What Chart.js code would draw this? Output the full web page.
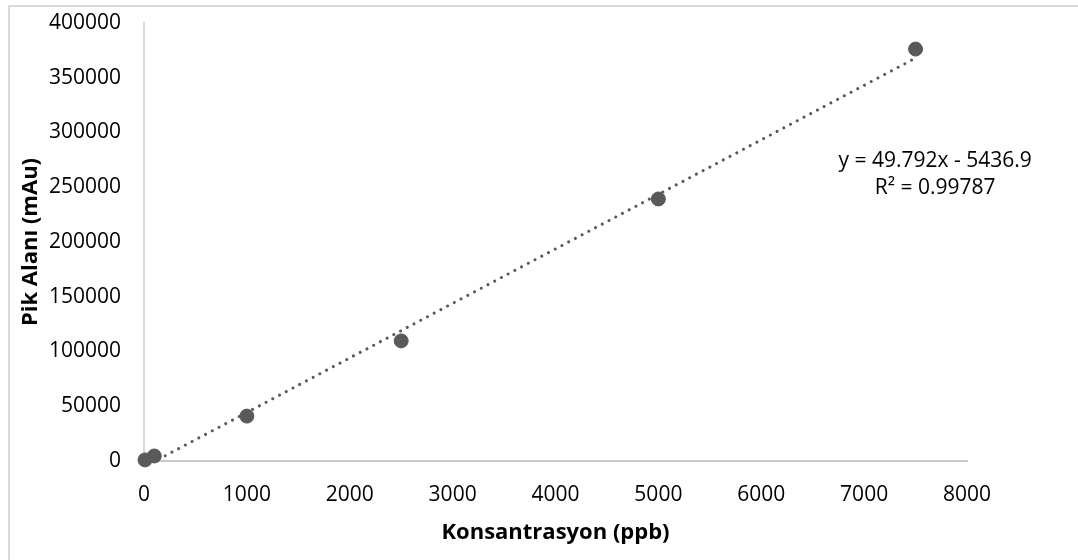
<!DOCTYPE html>
<html>
<head>
<meta charset="utf-8">
<script src="https://cdn.jsdelivr.net/npm/chart.js@4"></script>
<style>
  html, body { margin: 0; padding: 0; background: #fff; overflow: hidden; }
  #wrap { position: relative; width: 1078px; height: 560px; }
  #frame { position: absolute; left: 8px; top: 5px; width: 1100px; height: 600px;
           border: 2px solid #d9d9d9; box-sizing: border-box; pointer-events: none; }
  canvas { position: absolute; left: 0; top: 0; }
</style>
</head>
<body>
<div id="wrap">
  <div id="frame"></div>
  <canvas id="chart" width="1078" height="560"></canvas>
</div>
<script>
// ─── data ────────────────────────────────────────────────────────────────────
const concPpb  = [10, 100, 1000, 2500, 5000, 7500];
const peakArea = [1000, 4600, 41000, 109700, 239300, 376200];

// linear trendline endpoints (y = 49.792x - 5436.9 over the data range)
const trendX = [10, 7500];
const trendY = [-4939, 368003];

const eqLines = ['y = 49.792x - 5436.9', 'R² = 0.99787'];

const C = { mark: '#595959', axis: '#c9c9c9', text: '#000000' };
const FONT = 'Open Sans';

// equation label, drawn in data space like Excel's trendline label
const eqLabel = {
  id: 'eqLabel',
  afterDatasetsDraw(chart) {
    const { ctx, scales: { x, y } } = chart;
    const cx = x.getPixelForValue(7690);
    const cy = y.getPixelForValue(274000);
    ctx.save();
    ctx.font = `21px "${FONT}"`;
    ctx.fillStyle = C.text;
    ctx.textAlign = 'center';
    ctx.textBaseline = 'middle';
    eqLines.forEach((t, i) => ctx.fillText(t, cx, cy + i * 27));
    ctx.restore();
  },
};

const tickFont = { family: FONT, size: 21 };
const titleFont = { family: FONT, size: 22, weight: 'bold' };

new Chart(document.getElementById('chart').getContext('2d'), {
  type: 'scatter',
  data: {
    datasets: [
      {
        label: 'Pik Alanı',
        data: concPpb.map((x, i) => ({ x, y: peakArea[i] })),
        backgroundColor: C.mark,
        borderColor: C.mark,
        pointRadius: 7,
        pointHoverRadius: 7,
        clip: false,
        order: 0,
      },
      {
        label: 'Doğrusal',
        type: 'line',
        data: trendX.map((x, i) => ({ x, y: trendY[i] })),
        borderColor: C.mark,
        borderWidth: 3,
        borderDash: [0.01, 7.6],
        borderCapStyle: 'round',
        pointRadius: 0,
        fill: false,
        tension: 0,
        order: 1,
      },
    ],
  },
  options: {
    responsive: false, animation: false, devicePixelRatio: 1,
    layout: { padding: { left: 10, top: 23, right: 111, bottom: 10 } },
    plugins: { legend: { display: false }, tooltip: { enabled: false } },
    scales: {
      x: {
        type: 'linear', min: 0, max: 8000,
        grid: { display: false },
        border: { display: true, color: C.axis, width: 2 },
        ticks: { stepSize: 1000, color: C.text, font: tickFont, padding: 13,
                 maxRotation: 0, callback: v => String(v) },
        title: { display: true, text: 'Konsantrasyon (ppb)', color: C.text,
                 font: titleFont, padding: { top: 0, bottom: 4 } },
        afterFit: s => { s.height = 89; s.paddingLeft = 0; s.paddingRight = 0; },
      },
      y: {
        type: 'linear', min: 0, max: 400000,
        grid: { display: false },
        border: { display: true, color: '#d9d9d9', width: 2 },
        ticks: { stepSize: 50000, color: C.text, font: tickFont, padding: 15,
                 callback: v => String(v) },
        title: { display: true, text: 'Pik Alanı (mAu)', color: C.text,
                 font: titleFont, padding: { top: 8, bottom: 0 } },
        afterFit: s => { s.width = 134; s.paddingTop = 0; s.paddingBottom = 0; },
      },
    },
  },
  plugins: [eqLabel],
});
</script>
</body>
</html>
